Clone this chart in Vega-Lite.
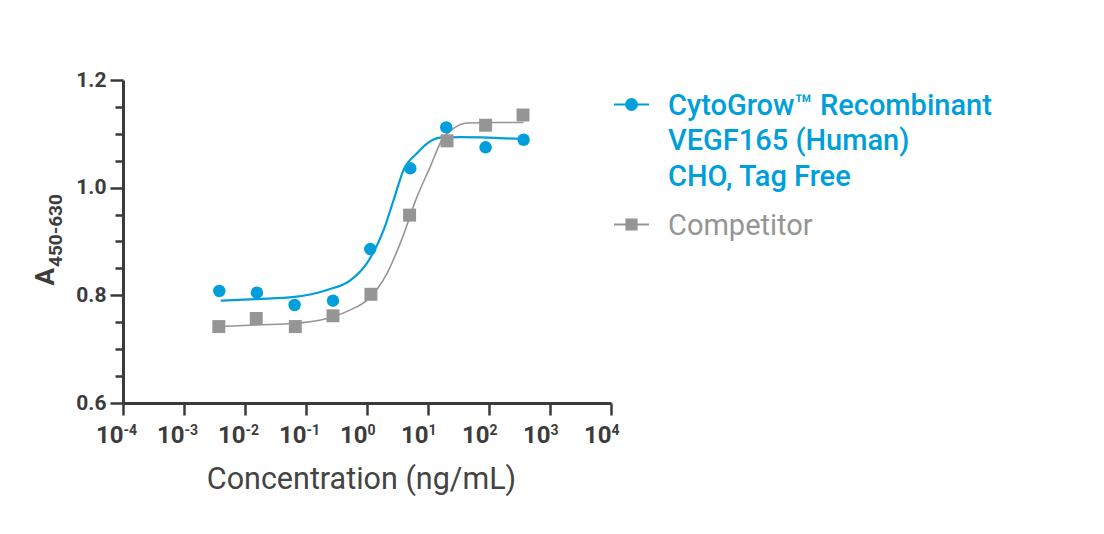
{
  "$schema": "https://vega.github.io/schema/vega-lite/v6.json",
  "width": 488,
  "height": 323,
  "autosize": {"type": "none"},
  "padding": {"left": 123, "top": 80, "right": 493, "bottom": 131},
  "background": "white",
  "config": {
    "view": {"stroke": null},
    "font": "Roboto"
  },
  "datasets": {
    "points": [
      {"series": "CytoGrow", "conc": 0.00379, "a": 0.808},
      {"series": "CytoGrow", "conc": 0.0157, "a": 0.805},
      {"series": "CytoGrow", "conc": 0.065, "a": 0.782},
      {"series": "CytoGrow", "conc": 0.277, "a": 0.79},
      {"series": "CytoGrow", "conc": 1.13, "a": 0.886},
      {"series": "CytoGrow", "conc": 5.13, "a": 1.036},
      {"series": "CytoGrow", "conc": 19.9, "a": 1.112},
      {"series": "CytoGrow", "conc": 87.9, "a": 1.075},
      {"series": "CytoGrow", "conc": 369, "a": 1.089},
      {"series": "Competitor", "conc": 0.00372, "a": 0.742},
      {"series": "Competitor", "conc": 0.0153, "a": 0.757},
      {"series": "Competitor", "conc": 0.0668, "a": 0.742},
      {"series": "Competitor", "conc": 0.277, "a": 0.762},
      {"series": "Competitor", "conc": 1.16, "a": 0.802},
      {"series": "Competitor", "conc": 4.99, "a": 0.949},
      {"series": "Competitor", "conc": 20.5, "a": 1.087},
      {"series": "Competitor", "conc": 87.9, "a": 1.116},
      {"series": "Competitor", "conc": 361, "a": 1.135}
    ],
    "fit": [
      {"series": "CytoGrow", "conc": 0.004, "a": 0.79},
      {"series": "CytoGrow", "conc": 0.0157, "a": 0.793},
      {"series": "CytoGrow", "conc": 0.065, "a": 0.797},
      {"series": "CytoGrow", "conc": 0.221, "a": 0.81},
      {"series": "CytoGrow", "conc": 0.532, "a": 0.828},
      {"series": "CytoGrow", "conc": 1.0, "a": 0.86},
      {"series": "CytoGrow", "conc": 1.87, "a": 0.921},
      {"series": "CytoGrow", "conc": 2.73, "a": 0.977},
      {"series": "CytoGrow", "conc": 3.98, "a": 1.033},
      {"series": "CytoGrow", "conc": 6.61, "a": 1.064},
      {"series": "CytoGrow", "conc": 9.64, "a": 1.082},
      {"series": "CytoGrow", "conc": 15.9, "a": 1.093},
      {"series": "CytoGrow", "conc": 33.9, "a": 1.094},
      {"series": "CytoGrow", "conc": 369, "a": 1.09},
      {"series": "Competitor", "conc": 0.004, "a": 0.742},
      {"series": "Competitor", "conc": 0.0157, "a": 0.745},
      {"series": "Competitor", "conc": 0.0668, "a": 0.748},
      {"series": "Competitor", "conc": 0.221, "a": 0.757},
      {"series": "Competitor", "conc": 0.532, "a": 0.773},
      {"series": "Competitor", "conc": 1.0, "a": 0.791},
      {"series": "Competitor", "conc": 2.13, "a": 0.841},
      {"series": "Competitor", "conc": 3.52, "a": 0.897},
      {"series": "Competitor", "conc": 6.61, "a": 0.983},
      {"series": "Competitor", "conc": 10.9, "a": 1.039},
      {"series": "Competitor", "conc": 17.0, "a": 1.089},
      {"series": "Competitor", "conc": 26.3, "a": 1.11},
      {"series": "Competitor", "conc": 43.6, "a": 1.12},
      {"series": "Competitor", "conc": 119, "a": 1.121},
      {"series": "Competitor", "conc": 369, "a": 1.121}
    ]
  },
  "resolve": {"axis": {"x": "independent", "y": "independent"}},
  "encoding": {
    "color": {
      "field": "series",
      "type": "nominal",
      "scale": {"domain": ["CytoGrow", "Competitor"], "range": ["#009fdb", "#959595"]},
      "legend": {
        "title": null,
        "orient": "none",
        "legendX": 490,
        "legendY": 6,
        "padding": 0,
        "symbolSize": 1225,
        "symbolStrokeWidth": 2,
        "labelFont": "Roboto",
        "labelFontSize": 29,
        "labelLimit": 600,
        "labelOffset": 18,
        "rowPadding": 14,
        "labelBaseline": "alphabetic",
        "labelExpr": "datum.value === 'Competitor' ? 'Competitor' : ['CytoGrow™ Recombinant', 'VEGF165 (Human)', 'CHO, Tag Free']",
        "encode": {
          "symbols": {
            "update": {
              "shape": {"signal": "datum.value === 'Competitor' ? 'M-1,0H1M-0.29,-0.29H0.29V0.29H-0.29Z' : 'M-1,0H1M0.31,0A0.31,0.31 0 1 1 -0.31,0A0.31,0.31 0 1 1 0.31,0Z'"},
              "size": {"value": 1225},
              "fill": {"signal": "datum.value === 'Competitor' ? '#959595' : '#009fdb'"},
              "stroke": {"signal": "datum.value === 'Competitor' ? '#959595' : '#009fdb'"},
              "strokeWidth": {"value": 2},
              "opacity": {"value": 1},
              "fillOpacity": {"value": 1},
              "strokeOpacity": {"value": 1}
            }
          },
          "labels": {
            "update": {
              "fill": {"signal": "datum.value === 'Competitor' ? '#959595' : '#009fdb'"},
              "fontWeight": {"signal": "datum.value === 'Competitor' ? 'normal' : 500"},
              "lineHeight": {"value": 35.5},
              "dy": {"value": 10}
            }
          }
        }
      }
    }
  },
  "layer": [
    {
      "data": {"name": "fit"},
      "mark": {"type": "line", "interpolate": "monotone"},
      "encoding": {
        "x": {
          "field": "conc",
          "type": "quantitative",
          "scale": {"type": "log", "domain": [0.0001, 10000], "nice": false},
          "axis": {
            "orient": "bottom",
            "title": "Concentration (ng/mL)",
            "titleFont": "Roboto",
            "titleFontSize": 30.5,
            "titleFontWeight": "normal",
            "titleColor": "#444444",
            "titlePadding": 17,
            "titleX": 238,
            "offset": 0,
            "values": [0.0001, 0.001, 0.01, 0.1, 1, 10, 100, 1000, 10000],
            "labelExpr": "'10'",
            "labelFont": "Roboto",
            "labelFontSize": 24,
            "labelFontWeight": "bold",
            "labelColor": "#3c3c3c",
            "labelAlign": "right",
            "labelDx": 8,
            "labelPadding": 8,
            "labelFlush": false,
            "labelOverlap": false,
            "grid": false,
            "domainColor": "#3a3a3a",
            "domainWidth": 3,
            "tickColor": "#3a3a3a",
            "tickWidth": 2.5,
            "tickSize": 12
          }
        },
        "y": {
          "field": "a",
          "type": "quantitative",
          "scale": {"domain": [0.6, 1.2], "nice": false, "zero": false},
          "axis": {
            "orient": "left",
            "offset": 0,
            "title": "A",
            "titleFont": "Roboto",
            "titleFontSize": 26,
            "titleFontWeight": "bold",
            "titleColor": "#3c3c3c",
            "titleAngle": -90,
            "titleAlign": "left",
            "titleBaseline": "alphabetic",
            "titleX": -70,
            "titleY": 205,
            "values": [0.6, 0.65, 0.7, 0.75, 0.8, 0.85, 0.9, 0.95, 1.0, 1.05, 1.1, 1.15, 1.2],
            "labelExpr": "round(datum.value*100) % 20 === 0 ? format(datum.value, '.1f') : ''",
            "labelFont": "Roboto",
            "labelFontSize": 21,
            "labelFontWeight": "bold",
            "labelColor": "#3c3c3c",
            "labelPadding": 4,
            "grid": false,
            "domainColor": "#3a3a3a",
            "domainWidth": 3,
            "tickColor": "#3a3a3a",
            "tickWidth": 2.5,
            "tickSize": {"condition": {"test": "round(datum.value*100) % 20 === 0", "value": 13}, "value": 8}
          }
        },
        "strokeWidth": {"condition": {"test": "datum.series === 'Competitor'", "value": 1.6}, "value": 2.2}
      }
    },
    {
      "data": {"name": "points"},
      "mark": {"type": "point", "filled": true, "opacity": 1},
      "encoding": {
        "x": {
          "field": "conc",
          "type": "quantitative",
          "scale": {"type": "log", "domain": [0.0001, 10000], "nice": false},
          "axis": {
            "orient": "bottom",
            "title": null,
            "offset": 0,
            "values": [0.0001, 0.001, 0.01, 0.1, 1, 10, 100, 1000, 10000],
            "labelExpr": "['-4','-3','-2','-1','0','1','2','3','4'][round(log(datum.value)/LN10)+4]",
            "labelFont": "Roboto",
            "labelFontSize": 14,
            "labelFontWeight": "bold",
            "labelColor": "#3c3c3c",
            "labelAlign": "left",
            "labelDx": 9,
            "labelDy": -1,
            "labelPadding": 8,
            "labelFlush": false,
            "labelOverlap": false,
            "grid": false,
            "domain": false,
            "tickColor": "transparent",
            "tickWidth": 2.5,
            "tickSize": 12
          }
        },
        "y": {
          "field": "a",
          "type": "quantitative",
          "scale": {"domain": [0.6, 1.2], "nice": false, "zero": false},
          "axis": {
            "orient": "left",
            "offset": 0,
            "title": "450-630",
            "titleFont": "Roboto",
            "titleFontSize": 19,
            "titleFontWeight": "bold",
            "titleColor": "#3c3c3c",
            "titleAngle": -90,
            "titleAlign": "left",
            "titleBaseline": "alphabetic",
            "titleX": -61.5,
            "titleY": 186.5,
            "labels": false,
            "ticks": false,
            "domain": false,
            "grid": false
          }
        },
        "shape": {"condition": {"test": "datum.series === 'Competitor'", "value": "square"}, "value": "circle"},
        "size": {"condition": {"test": "datum.series === 'Competitor'", "value": 168}, "value": 155}
      }
    }
  ]
}
